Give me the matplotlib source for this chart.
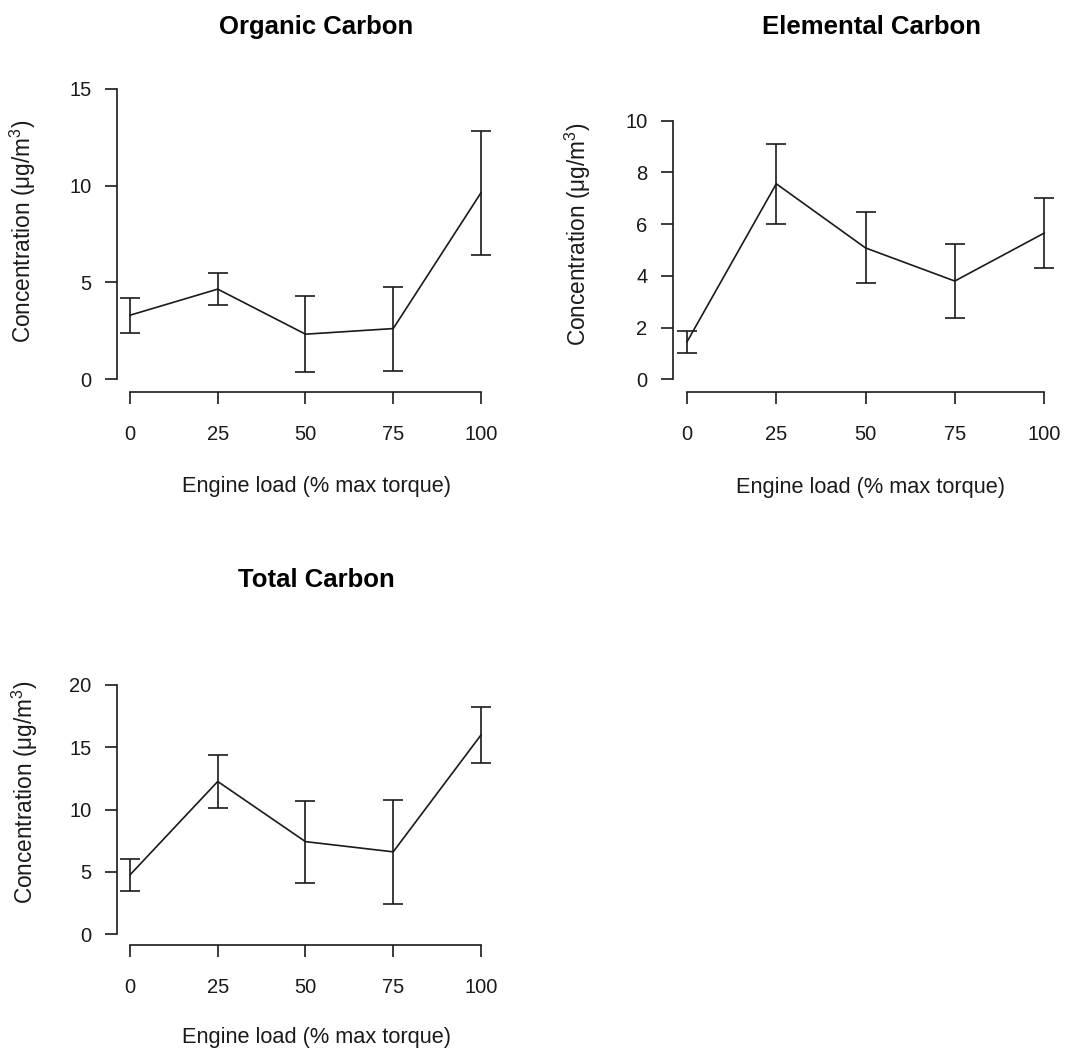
import matplotlib
matplotlib.use("Agg")
import matplotlib.pyplot as plt

plt.rcParams["font.family"] = ["Liberation Sans", "DejaVu Sans"]
plt.rcParams["mathtext.fontset"] = "custom"
plt.rcParams["mathtext.rm"] = "Liberation Sans"
plt.rcParams["mathtext.it"] = "Liberation Sans:italic"
plt.rcParams["mathtext.bf"] = "Liberation Sans:bold"

# Engine load levels (% of max torque)
load = [0, 25, 50, 75, 100]
load_ticks = [0, 25, 50, 75, 100]

# Organic carbon: mean and half-width of error bar (µg/m³)
oc_mean = [3.3, 4.65, 2.32, 2.61, 9.63]
oc_err = [0.90, 0.83, 1.98, 2.17, 3.22]
oc_yticks = [0, 5, 10, 15]

# Elemental carbon
ec_mean = [1.45, 7.56, 5.08, 3.80, 5.65]
ec_err = [0.43, 1.55, 1.37, 1.42, 1.35]
ec_yticks = [0, 2, 4, 6, 8, 10]

# Total carbon
tc_mean = [4.75, 12.25, 7.42, 6.60, 15.98]
tc_err = [1.27, 2.10, 3.30, 4.15, 2.22]
tc_yticks = [0, 5, 10, 15, 20]

W, H = 1070, 1049
fig = plt.figure(figsize=(W / 100, H / 100), dpi=100)

xlabel = "Engine load (% max torque)"
ylabel = r"Concentration ($\mathregular{\mu}$g/m$^{3}$)"
INK = "#1a1a1a"


def panel(px_left, px_right, px_top, px_bottom, xlim, ylim, mean, err, yticks,
          title, title_xy, xlabel_xy, ylabel_xy):
    ax = fig.add_axes([px_left / W, 1 - px_bottom / H,
                       (px_right - px_left) / W, (px_bottom - px_top) / H])
    ax.errorbar(load, mean, yerr=err, color=INK, lw=1.2,
                capsize=7.5, capthick=1.2, elinewidth=1.2, clip_on=False)
    ax.set_xlim(*xlim)
    ax.set_ylim(*ylim)
    ax.set_xticks(load_ticks)
    ax.set_yticks(yticks)
    ax.set_yticklabels([str(t) for t in yticks])
    for s in ("top", "right"):
        ax.spines[s].set_visible(False)
    ax.spines["left"].set_bounds(yticks[0], yticks[-1])
    ax.spines["bottom"].set_bounds(load_ticks[0], load_ticks[-1])
    for s in ("left", "bottom"):
        ax.spines[s].set_linewidth(1.2)
        ax.spines[s].set_color(INK)
    ax.tick_params(axis="both", length=8.5, width=1.2, color=INK,
                   labelsize=14.5, labelcolor=INK)
    ax.tick_params(axis="y", pad=10)
    ax.tick_params(axis="x", pad=15)
    ax.patch.set_visible(False)
    fig.text(title_xy[0] / W, 1 - title_xy[1] / H, title, ha="center",
             va="baseline", fontsize=18.5, fontweight="bold", color="black")
    fig.text(xlabel_xy[0] / W, 1 - xlabel_xy[1] / H, xlabel, ha="center",
             va="baseline", fontsize=15.7, color=INK)
    fig.text(ylabel_xy[0] / W, 1 - ylabel_xy[1] / H, ylabel, ha="center",
             va="center", rotation=90, fontsize=16.3, color=INK)
    return ax


panel(117, 515, 76, 392, (-3.7, 109.7), (-0.67, 15.67), oc_mean, oc_err,
      oc_yticks, "Organic Carbon", (316, 34), (317, 492), (23, 231))
panel(673, 1069, 108, 392, (-3.93, 107.0), (-0.49, 10.49), ec_mean, ec_err,
      ec_yticks, "Elemental Carbon", (871, 34), (871, 493), (578, 234))
panel(117, 515, 674, 945, (-3.7, 109.7), (-0.88, 20.88), tc_mean, tc_err,
      tc_yticks, "Total Carbon", (316, 587), (317, 1043), (25, 792))

fig.savefig("out.png", dpi=100, facecolor="white")
